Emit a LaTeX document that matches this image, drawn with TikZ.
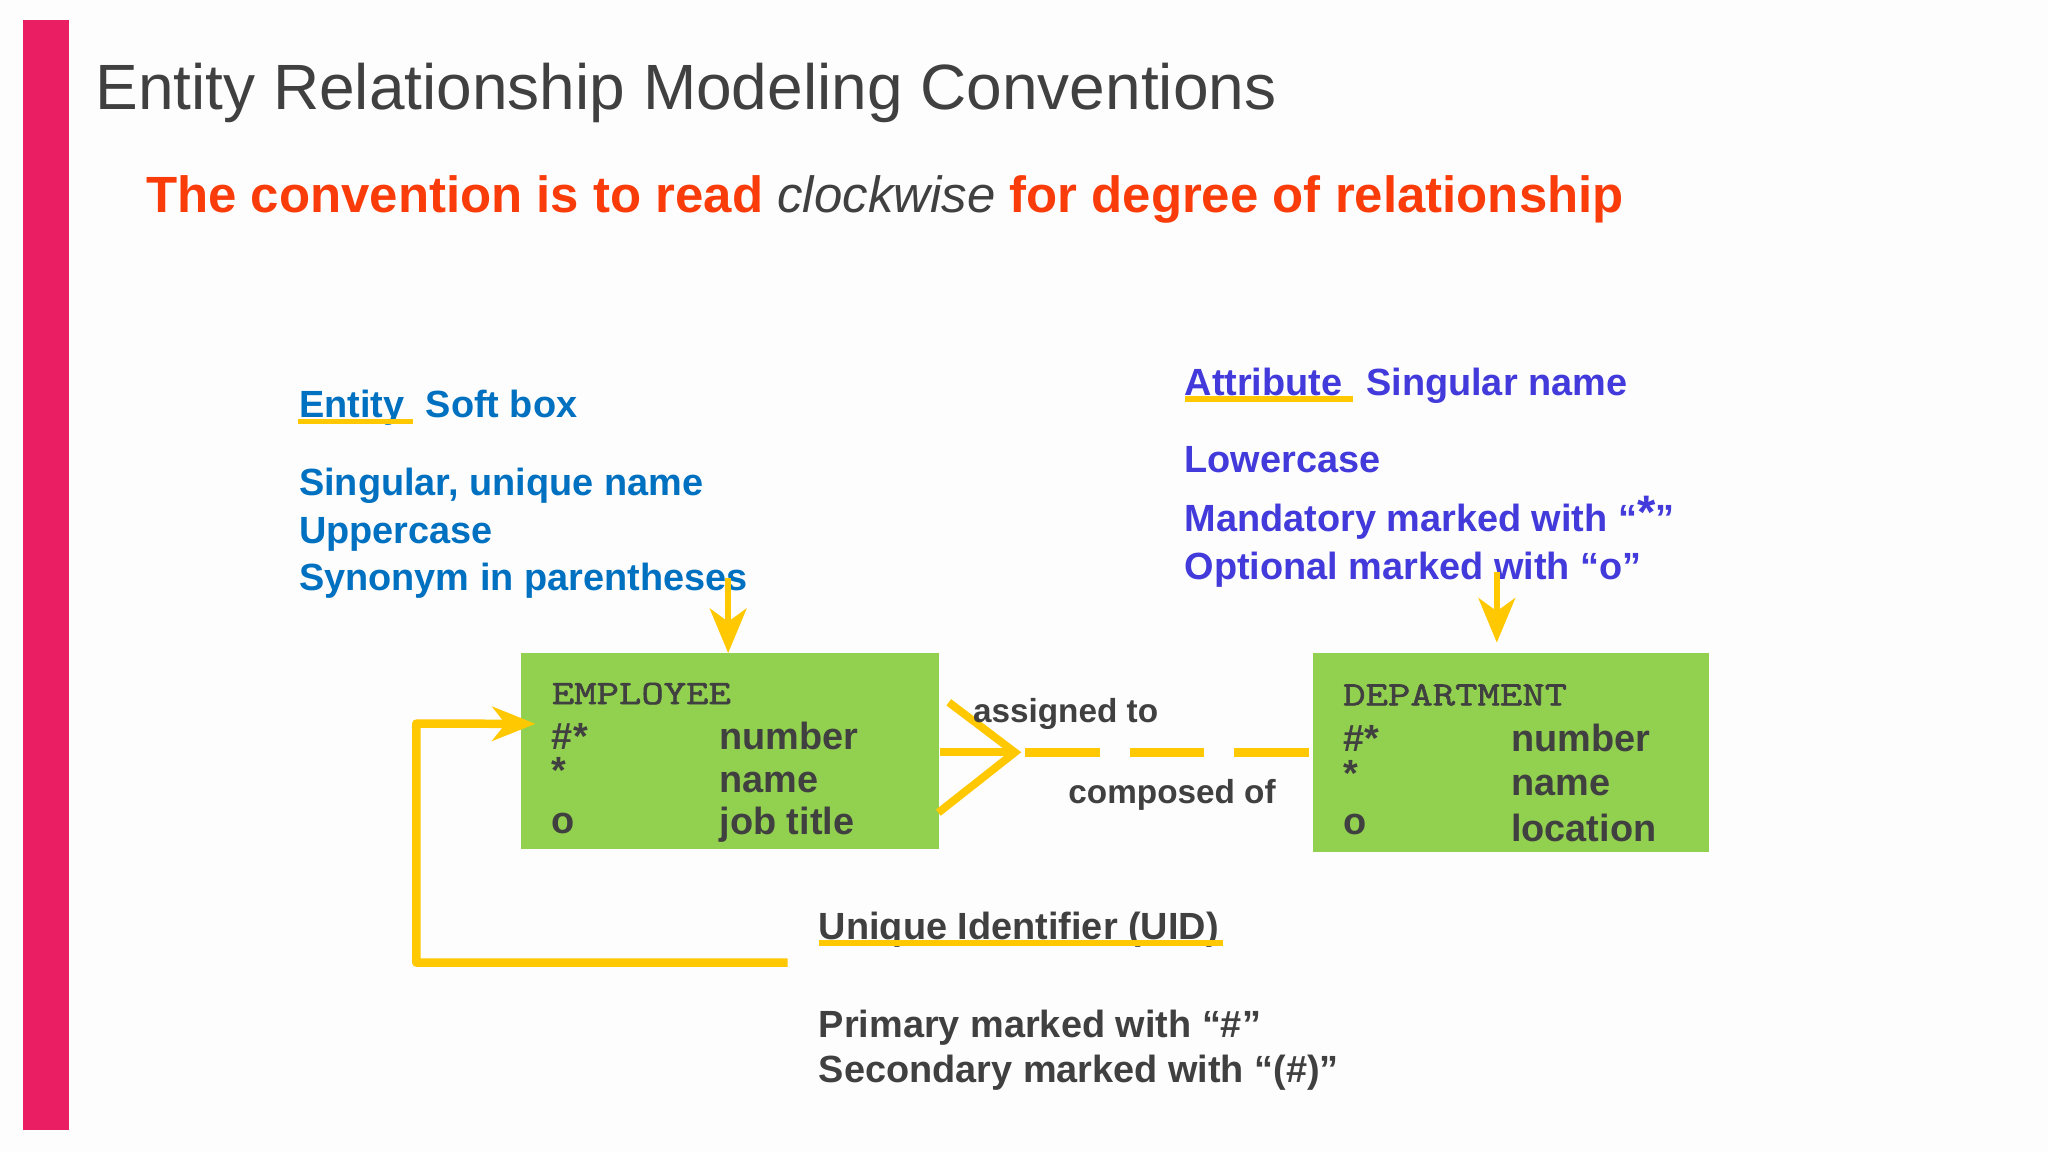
\documentclass[tikz,border=0pt]{standalone}
\usepackage{fontspec}
\setmainfont{Liberation Sans}
\newfontfamily\ermono[FakeStretch=1.28,FakeBold=1.8]{Latin Modern Mono}
\usetikzlibrary{arrows.meta,calc}
\definecolor{pinkbar}{RGB}{233,30,99}
\definecolor{bgcol}{RGB}{253,253,253}
\definecolor{titlegray}{RGB}{64,64,64}
\definecolor{subred}{RGB}{250,60,10}
\definecolor{entblue}{RGB}{0,112,192}
\definecolor{attblue}{RGB}{66,58,218}
\definecolor{gold}{RGB}{255,200,0}
\definecolor{boxgreen}{RGB}{146,208,80}
\begin{document}
\begin{tikzpicture}[x=1pt,y=-1pt,
  txt/.style={anchor=base west,inner sep=0pt,outer sep=0pt},
  body/.style={txt,font=\bfseries\fontsize{29}{29}\selectfont},
  entt/.style={body,text=entblue},
  attt/.style={body,text=attblue},
  grayt/.style={body,text=titlegray},
  boxname/.style={txt,text=titlegray,font=\ermono\fontsize{26}{26}\selectfont},
  rellbl/.style={txt,text=titlegray,font=\bfseries\fontsize{25.5}{25.5}\selectfont},
  entbox/.style={fill=boxgreen,draw=none,inner sep=0pt,anchor=north west},
  uline/.style={draw=gold,line width=4pt},
  downarrow/.style={draw=gold,line width=5pt,-{Stealth[length=34pt,width=28pt,inset=10pt]}},
  crow/.style={draw=gold,line width=6pt},
  reldash/.style={draw=gold,line width=7pt,dash pattern=on 57pt off 23pt},
  uidloop/.style={draw=gold,line width=6.5pt,line join=round,-{Stealth[length=33pt,width=26pt,inset=10pt]}}
]
\useasboundingbox (0,0) rectangle (1568,882);
\fill[bgcol] (0,0) rectangle (1568,882);
\fill[pinkbar] (17.5,15) rectangle (53,865);

% title and subtitle
\node[txt,text=titlegray,font=\fontsize{49}{49}\selectfont] (title) at (73,84) {Entity Relationship Modeling Conventions};
\node[txt,text=subred,font=\bfseries\fontsize{39}{39}\selectfont] (subtitle) at (112,163)
  {The convention is to read {\mdseries\itshape\color{titlegray}clockwise} for degree of relationship};

% entity notes
\node[entt] (entlbl) at (229,320) {Entity};
\node[entt] (entsoft) at (326,320) {Soft box};
\node[entt] (ent1) at (229,379) {Singular, unique name};
\node[entt] (ent2) at (229,416) {Uppercase};
\node[entt] (ent3) at (229,452) {Synonym in parentheses};
\draw[uline] (228,323) -- (316,323);

% attribute notes
\node[attt] (attlbl) at (907,302.5) {Attribute};
\node[attt] (attsing) at (1046,302.5) {Singular name};
\node[attt] (att1) at (907,362) {Lowercase};
\node[attt] (att2) at (907,407) {Mandatory marked with “\raisebox{2pt}{\fontsize{36}{36}\selectfont *}”};
\node[attt] (att3) at (907,444) {Optional marked with “o”};
\draw[uline] (907,305.5) -- (1036,305.5);

% entity boxes
\node[entbox,minimum width=320pt,minimum height=150pt] (emp) at (399,500) {};
\node[entbox,minimum width=303pt,minimum height=152pt] (dept) at (1005,500) {};

\node[boxname] (empname) at (422.5,539) {EMPLOYEE};
\node[grayt] (e1a) at (422.6,574) {\#*};
\node[grayt] (e1b) at (551,574) {number};
\node[grayt] (e2a) at (422.6,600) {*};
\node[grayt] (e2b) at (551,607) {name};
\node[grayt] (e3a) at (422.6,638) {o};
\node[grayt] (e3b) at (551,639) {job title};

\node[boxname] (deptname) at (1028.4,540) {DEPARTMENT};
\node[grayt] (d1a) at (1028.4,575) {\#*};
\node[grayt] (d1b) at (1157,575) {number};
\node[grayt] (d2a) at (1028.4,602) {*};
\node[grayt] (d2b) at (1157,609) {name};
\node[grayt] (d3a) at (1028.4,639) {o};
\node[grayt] (d3b) at (1157,644) {location};

% pointer arrows
\coordinate (a1s) at (557.5,442.6);
\draw[downarrow] (a1s) -- (a1s |- emp.north);
\coordinate (a2s) at (1146,438);
\draw[downarrow,shorten >=8pt] (a2s) -- (a2s |- dept.north);

% relationship
\coordinate (cf) at (777,576);
\draw[crow] (emp.east |- cf) -- (cf);
\draw[crow,line join=miter] ($(emp.east)+(7,-37.5)$) -- (cf) -- ($(emp.east)+(-1,47)$);
\draw[reldash] ($(cf)+(8,0)$) -- (dept.west |- cf);
\node[rellbl] (assigned) at (745,553) {assigned to};
\node[rellbl] (composed) at (818,615) {composed of};

% unique identifier
\node[grayt] (uidlbl) at (627,719) {Unique Identifier (UID)};
\draw[uline] (627,722) -- (936.5,722);
\node[grayt] (uid1) at (627,794) {Primary marked with “\#”};
\node[grayt] (uid2) at (627,829) {Secondary marked with “(\#)”};
\coordinate (uidstart) at (603,737);
\draw[uidloop] (uidstart) -- (318.7,737) -- (318.7,554) -- ($(emp.west)+(11,-21)$);
\end{tikzpicture}
\end{document}
